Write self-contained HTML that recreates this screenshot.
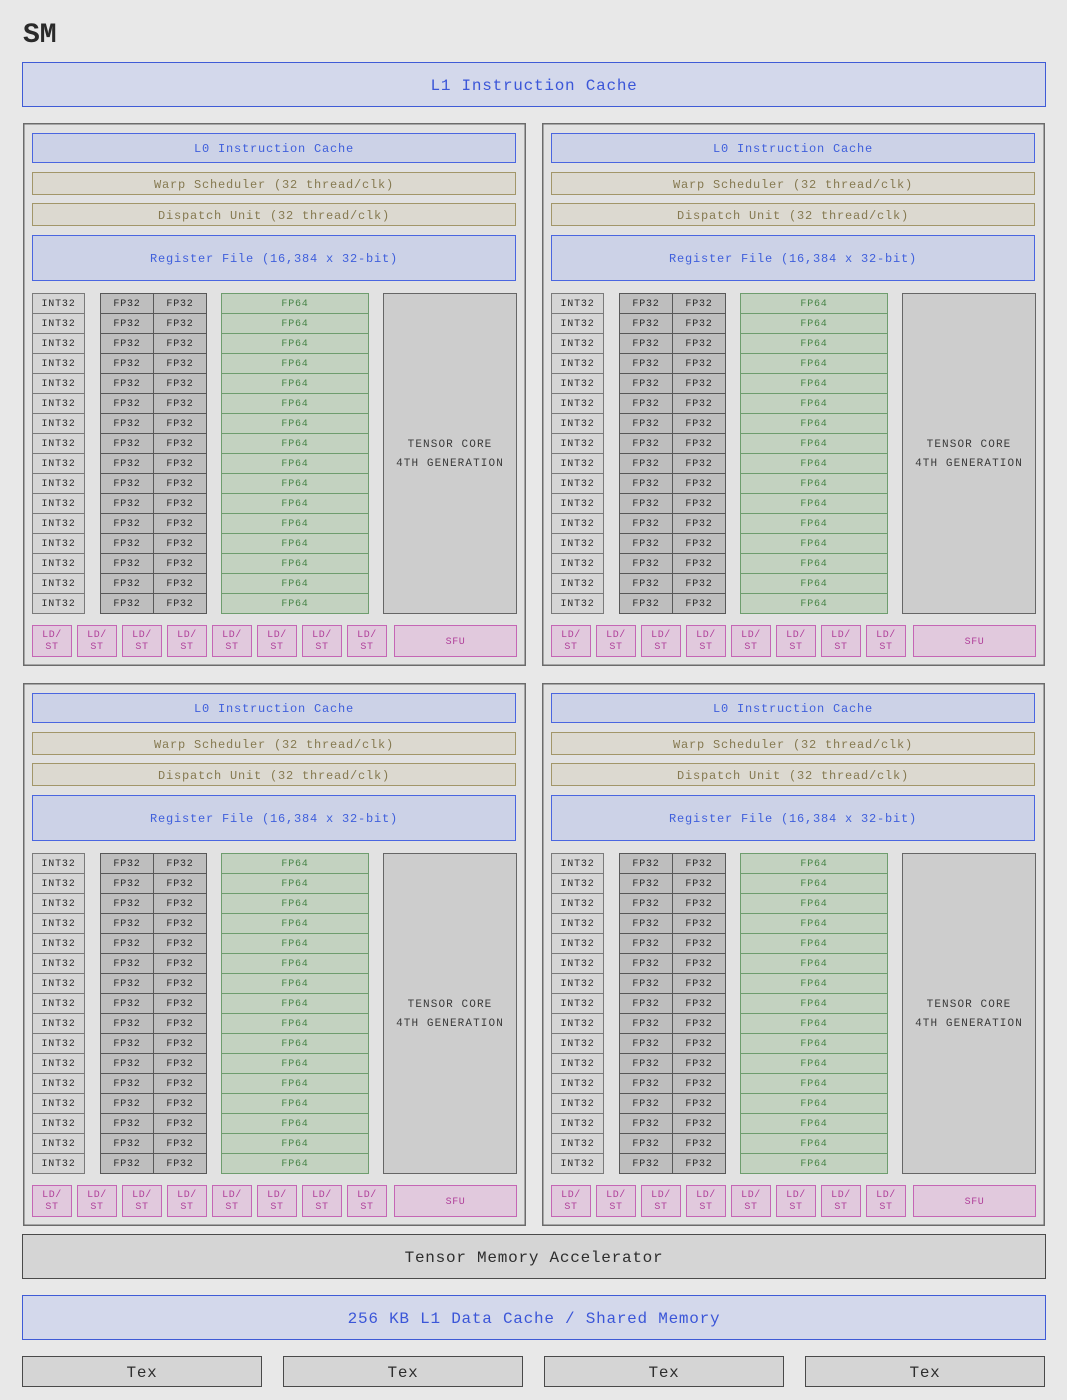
<!DOCTYPE html>
<html><head><meta charset="utf-8"><style>
*{margin:0;padding:0}
body{width:1067px;height:1400px;background:#e8e8e8;position:relative;overflow:hidden;font-family:"Liberation Mono",monospace}
.a{position:absolute;box-sizing:border-box;display:flex;align-items:center;justify-content:center;border:1px solid;white-space:nowrap;padding-top:2px}
.p{position:absolute;width:503px;height:543px;background:#e2e2e2;box-shadow:inset 0 0 0 1.5px #6b6b6b}
.l1{background:#d3d8eb;border-color:#3f5bd6;color:#3b56d8;font-size:16px;letter-spacing:0.75px;border-width:1.5px}
.l0{left:9px;top:10px;width:484px;height:30px;background:#ccd2e7;border-color:#4a66e0;color:#3f5fdc;font-size:12px;letter-spacing:0.8px}
.ws{left:9px;width:484px;height:23px;background:#dcd9d0;border-color:#a29669;color:#857950;font-size:12px;letter-spacing:0.8px}
.rf{left:9px;top:112px;width:484px;height:46px;background:#ccd2e7;border-color:#4a66e0;color:#3f5fdc;font-size:12px;letter-spacing:0.8px}
.c{position:absolute;box-sizing:border-box;top:170px;height:321px;border:1px solid;text-align:center;font-size:10px;letter-spacing:0.8px;line-height:20px}
.c div{margin-top:1px}
.i{left:9px;width:53px;background:#d5d5d5 repeating-linear-gradient(to bottom,transparent 0 19px,#7a7a7a 19px 20px);border-color:#7a7a7a;color:#2a2a2a}
.f{width:54px;background:#bebebe repeating-linear-gradient(to bottom,transparent 0 19px,#585858 19px 20px);border-color:#585858;color:#2a2a2a}
.g{left:198px;width:148px;background:#c3d2c0 repeating-linear-gradient(to bottom,transparent 0 19px,#6e9d6e 19px 20px);border-color:#6e9d6e;color:#478447}
.t{left:360px;top:170px;width:134px;height:321px;background:#cdcdcd;border-color:#666;color:#3a3a3a;font-size:11px;letter-spacing:1.1px;line-height:19px;text-align:center;flex-direction:column}
.ld{top:502px;width:40px;height:32px;background:#e1c9dd;border-color:#c566b5;color:#b0409a;font-size:10px;letter-spacing:0.6px;line-height:12px;text-align:center;flex-direction:column}
.sf{left:371px;top:502px;width:123px;height:32px;background:#e1c9dd;border-color:#c566b5;color:#b0409a;font-size:10px;letter-spacing:0.6px}
.gr{background:#d5d5d5;border-color:#4a4a4a;color:#2e2e2e;font-size:16px;letter-spacing:0.75px;border-width:1.5px}
</style></head><body>
<div style="position:absolute;left:23px;top:16px;font-size:28px;font-weight:bold;color:#2a2a2a;line-height:40px">SM</div>
<div class="a l1" style="left:22px;top:62px;width:1024px;height:45px">L1 Instruction Cache</div>

<div class="p" style="left:23px;top:123px">
<div class="a l0">L0 Instruction Cache</div>
<div class="a ws" style="top:49px">Warp Scheduler (32 thread/clk)</div>
<div class="a ws" style="top:80px">Dispatch Unit (32 thread/clk)</div>
<div class="a rf">Register File (16,384 x 32-bit)</div>
<div class="c i"><div>INT32<br>INT32<br>INT32<br>INT32<br>INT32<br>INT32<br>INT32<br>INT32<br>INT32<br>INT32<br>INT32<br>INT32<br>INT32<br>INT32<br>INT32<br>INT32</div></div>
<div class="c f" style="left:77px"><div>FP32<br>FP32<br>FP32<br>FP32<br>FP32<br>FP32<br>FP32<br>FP32<br>FP32<br>FP32<br>FP32<br>FP32<br>FP32<br>FP32<br>FP32<br>FP32</div></div>
<div class="c f" style="left:130px"><div>FP32<br>FP32<br>FP32<br>FP32<br>FP32<br>FP32<br>FP32<br>FP32<br>FP32<br>FP32<br>FP32<br>FP32<br>FP32<br>FP32<br>FP32<br>FP32</div></div>
<div class="c g"><div>FP64<br>FP64<br>FP64<br>FP64<br>FP64<br>FP64<br>FP64<br>FP64<br>FP64<br>FP64<br>FP64<br>FP64<br>FP64<br>FP64<br>FP64<br>FP64</div></div>
<div class="a t"><span>TENSOR CORE</span><span>4TH GENERATION</span></div>
<div class="a ld" style="left:9px"><span>LD/</span><span>ST</span></div>
<div class="a ld" style="left:54px"><span>LD/</span><span>ST</span></div>
<div class="a ld" style="left:99px"><span>LD/</span><span>ST</span></div>
<div class="a ld" style="left:144px"><span>LD/</span><span>ST</span></div>
<div class="a ld" style="left:189px"><span>LD/</span><span>ST</span></div>
<div class="a ld" style="left:234px"><span>LD/</span><span>ST</span></div>
<div class="a ld" style="left:279px"><span>LD/</span><span>ST</span></div>
<div class="a ld" style="left:324px"><span>LD/</span><span>ST</span></div>
<div class="a sf">SFU</div>
</div>

<div class="p" style="left:542px;top:123px">
<div class="a l0">L0 Instruction Cache</div>
<div class="a ws" style="top:49px">Warp Scheduler (32 thread/clk)</div>
<div class="a ws" style="top:80px">Dispatch Unit (32 thread/clk)</div>
<div class="a rf">Register File (16,384 x 32-bit)</div>
<div class="c i"><div>INT32<br>INT32<br>INT32<br>INT32<br>INT32<br>INT32<br>INT32<br>INT32<br>INT32<br>INT32<br>INT32<br>INT32<br>INT32<br>INT32<br>INT32<br>INT32</div></div>
<div class="c f" style="left:77px"><div>FP32<br>FP32<br>FP32<br>FP32<br>FP32<br>FP32<br>FP32<br>FP32<br>FP32<br>FP32<br>FP32<br>FP32<br>FP32<br>FP32<br>FP32<br>FP32</div></div>
<div class="c f" style="left:130px"><div>FP32<br>FP32<br>FP32<br>FP32<br>FP32<br>FP32<br>FP32<br>FP32<br>FP32<br>FP32<br>FP32<br>FP32<br>FP32<br>FP32<br>FP32<br>FP32</div></div>
<div class="c g"><div>FP64<br>FP64<br>FP64<br>FP64<br>FP64<br>FP64<br>FP64<br>FP64<br>FP64<br>FP64<br>FP64<br>FP64<br>FP64<br>FP64<br>FP64<br>FP64</div></div>
<div class="a t"><span>TENSOR CORE</span><span>4TH GENERATION</span></div>
<div class="a ld" style="left:9px"><span>LD/</span><span>ST</span></div>
<div class="a ld" style="left:54px"><span>LD/</span><span>ST</span></div>
<div class="a ld" style="left:99px"><span>LD/</span><span>ST</span></div>
<div class="a ld" style="left:144px"><span>LD/</span><span>ST</span></div>
<div class="a ld" style="left:189px"><span>LD/</span><span>ST</span></div>
<div class="a ld" style="left:234px"><span>LD/</span><span>ST</span></div>
<div class="a ld" style="left:279px"><span>LD/</span><span>ST</span></div>
<div class="a ld" style="left:324px"><span>LD/</span><span>ST</span></div>
<div class="a sf">SFU</div>
</div>

<div class="p" style="left:23px;top:683px">
<div class="a l0">L0 Instruction Cache</div>
<div class="a ws" style="top:49px">Warp Scheduler (32 thread/clk)</div>
<div class="a ws" style="top:80px">Dispatch Unit (32 thread/clk)</div>
<div class="a rf">Register File (16,384 x 32-bit)</div>
<div class="c i"><div>INT32<br>INT32<br>INT32<br>INT32<br>INT32<br>INT32<br>INT32<br>INT32<br>INT32<br>INT32<br>INT32<br>INT32<br>INT32<br>INT32<br>INT32<br>INT32</div></div>
<div class="c f" style="left:77px"><div>FP32<br>FP32<br>FP32<br>FP32<br>FP32<br>FP32<br>FP32<br>FP32<br>FP32<br>FP32<br>FP32<br>FP32<br>FP32<br>FP32<br>FP32<br>FP32</div></div>
<div class="c f" style="left:130px"><div>FP32<br>FP32<br>FP32<br>FP32<br>FP32<br>FP32<br>FP32<br>FP32<br>FP32<br>FP32<br>FP32<br>FP32<br>FP32<br>FP32<br>FP32<br>FP32</div></div>
<div class="c g"><div>FP64<br>FP64<br>FP64<br>FP64<br>FP64<br>FP64<br>FP64<br>FP64<br>FP64<br>FP64<br>FP64<br>FP64<br>FP64<br>FP64<br>FP64<br>FP64</div></div>
<div class="a t"><span>TENSOR CORE</span><span>4TH GENERATION</span></div>
<div class="a ld" style="left:9px"><span>LD/</span><span>ST</span></div>
<div class="a ld" style="left:54px"><span>LD/</span><span>ST</span></div>
<div class="a ld" style="left:99px"><span>LD/</span><span>ST</span></div>
<div class="a ld" style="left:144px"><span>LD/</span><span>ST</span></div>
<div class="a ld" style="left:189px"><span>LD/</span><span>ST</span></div>
<div class="a ld" style="left:234px"><span>LD/</span><span>ST</span></div>
<div class="a ld" style="left:279px"><span>LD/</span><span>ST</span></div>
<div class="a ld" style="left:324px"><span>LD/</span><span>ST</span></div>
<div class="a sf">SFU</div>
</div>

<div class="p" style="left:542px;top:683px">
<div class="a l0">L0 Instruction Cache</div>
<div class="a ws" style="top:49px">Warp Scheduler (32 thread/clk)</div>
<div class="a ws" style="top:80px">Dispatch Unit (32 thread/clk)</div>
<div class="a rf">Register File (16,384 x 32-bit)</div>
<div class="c i"><div>INT32<br>INT32<br>INT32<br>INT32<br>INT32<br>INT32<br>INT32<br>INT32<br>INT32<br>INT32<br>INT32<br>INT32<br>INT32<br>INT32<br>INT32<br>INT32</div></div>
<div class="c f" style="left:77px"><div>FP32<br>FP32<br>FP32<br>FP32<br>FP32<br>FP32<br>FP32<br>FP32<br>FP32<br>FP32<br>FP32<br>FP32<br>FP32<br>FP32<br>FP32<br>FP32</div></div>
<div class="c f" style="left:130px"><div>FP32<br>FP32<br>FP32<br>FP32<br>FP32<br>FP32<br>FP32<br>FP32<br>FP32<br>FP32<br>FP32<br>FP32<br>FP32<br>FP32<br>FP32<br>FP32</div></div>
<div class="c g"><div>FP64<br>FP64<br>FP64<br>FP64<br>FP64<br>FP64<br>FP64<br>FP64<br>FP64<br>FP64<br>FP64<br>FP64<br>FP64<br>FP64<br>FP64<br>FP64</div></div>
<div class="a t"><span>TENSOR CORE</span><span>4TH GENERATION</span></div>
<div class="a ld" style="left:9px"><span>LD/</span><span>ST</span></div>
<div class="a ld" style="left:54px"><span>LD/</span><span>ST</span></div>
<div class="a ld" style="left:99px"><span>LD/</span><span>ST</span></div>
<div class="a ld" style="left:144px"><span>LD/</span><span>ST</span></div>
<div class="a ld" style="left:189px"><span>LD/</span><span>ST</span></div>
<div class="a ld" style="left:234px"><span>LD/</span><span>ST</span></div>
<div class="a ld" style="left:279px"><span>LD/</span><span>ST</span></div>
<div class="a ld" style="left:324px"><span>LD/</span><span>ST</span></div>
<div class="a sf">SFU</div>
</div>

<div class="a gr" style="left:22px;top:1234px;width:1024px;height:45px">Tensor Memory Accelerator</div>
<div class="a l1" style="left:22px;top:1295px;width:1024px;height:45px">256 KB L1 Data Cache / Shared Memory</div>
<div class="a gr" style="left:22px;top:1356px;width:240px;height:31px">Tex</div>
<div class="a gr" style="left:283px;top:1356px;width:240px;height:31px">Tex</div>
<div class="a gr" style="left:544px;top:1356px;width:240px;height:31px">Tex</div>
<div class="a gr" style="left:805px;top:1356px;width:240px;height:31px">Tex</div>
</body></html>
